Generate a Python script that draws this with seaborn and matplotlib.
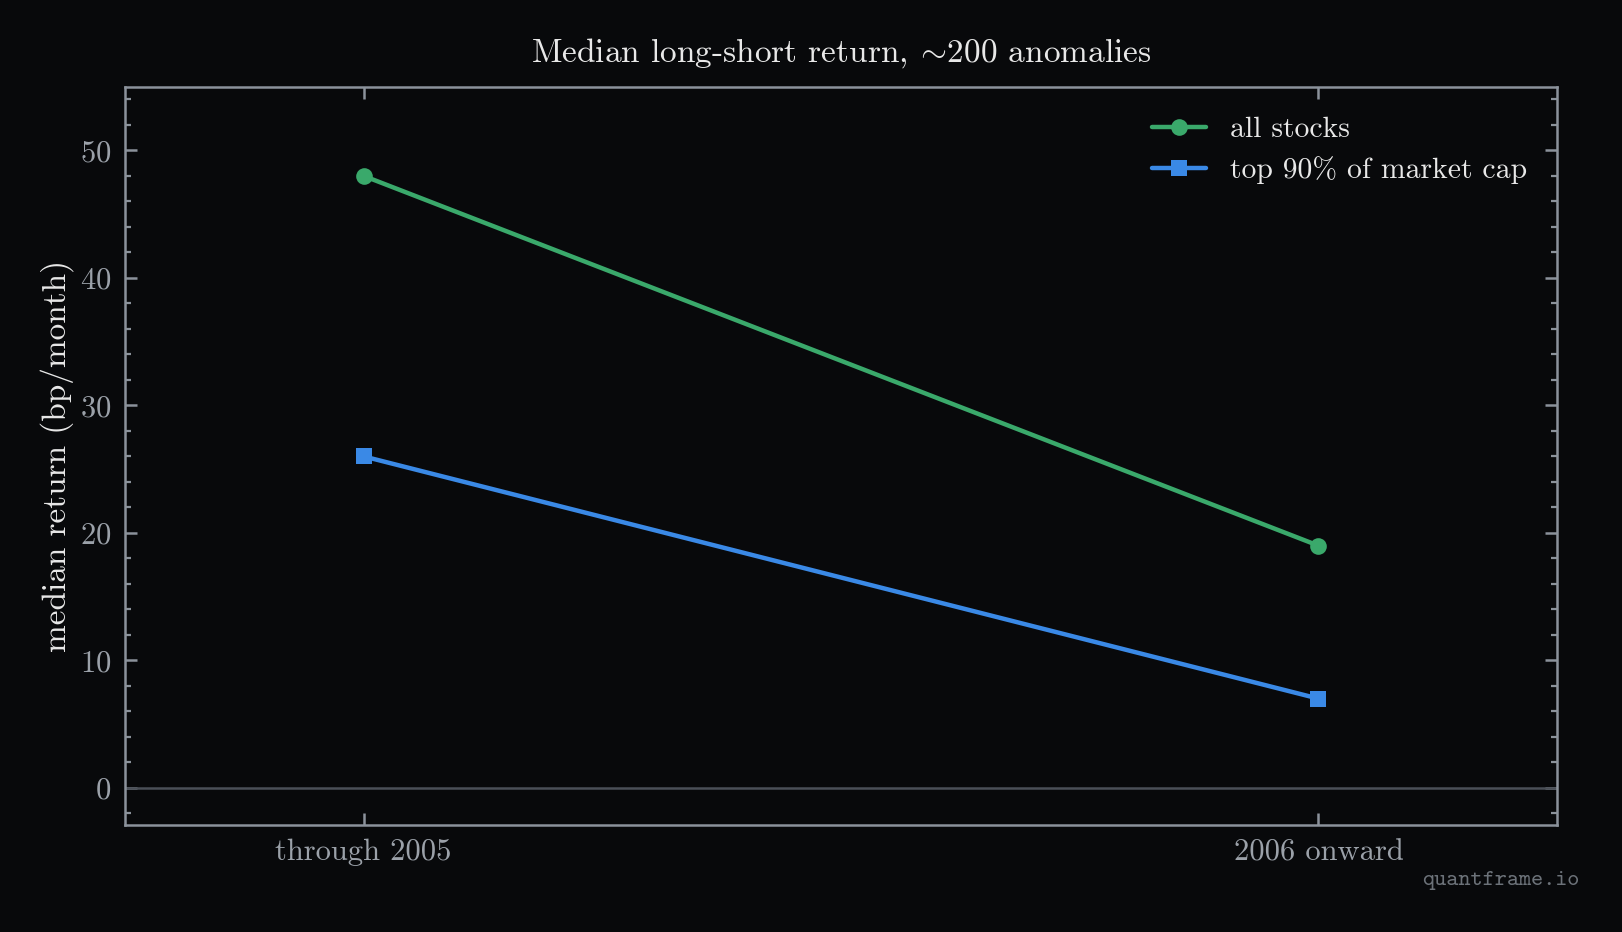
import matplotlib
matplotlib.use("Agg")
import matplotlib.pyplot as plt
import seaborn as sns
import pandas as pd
from matplotlib.ticker import MultipleLocator

periods = ["through 2005", "2006 onward"]
series_names = ["all stocks", "top 90% of market cap"]
all_stocks = [48, 19]
top90 = [26, 7]
yticks = [0, 10, 20, 30, 40, 50]

BG = "#08090b"
GREEN = "#3aa96b"
BLUE = "#3a89e6"
SPINE = "#8b929b"
TICKTXT = "#9ba1a9"
TXT = "#e8e8e8"

sns.set_theme(style="dark")
plt.rcParams.update({
    "font.family": "serif",
    "font.serif": ["cmr10"],
    "mathtext.fontset": "cm",
    "axes.formatter.use_mathtext": True,
    "axes.unicode_minus": False,
})

df = pd.DataFrame({
    "pos": list(range(len(periods))) * 2,
    "value": all_stocks + top90,
    "series": [series_names[0]] * len(periods) + [series_names[1]] * len(periods),
})

fig = plt.figure(figsize=(8.11, 4.66), dpi=200, facecolor=BG)
ax = fig.add_axes([0.077, 0.115, 0.883, 0.792])
ax.set_facecolor(BG)

ax.axhline(0, color="#4a4f57", lw=0.9, zorder=1)

sns.lineplot(
    data=df, x="pos", y="value", hue="series", style="series",
    hue_order=series_names, style_order=series_names,
    palette={series_names[0]: GREEN, series_names[1]: BLUE},
    markers={series_names[0]: "o", series_names[1]: "s"},
    dashes=False, lw=1.6, markersize=6, markeredgewidth=0,
    ax=ax, zorder=3,
)

ax.set_xlim(-0.25, 1.25)
ax.set_ylim(-2.9, 55)
ax.set_xticks(range(len(periods)))
ax.set_xticklabels(periods)
ax.set_yticks(yticks)
ax.yaxis.set_minor_locator(MultipleLocator(2))
ax.set_xlabel("")
ax.set_ylabel("median return (bp/month)", color=TXT, fontsize=12, labelpad=2)
ax.set_title(r"Median long-short return, $\!\sim\!$200 anomalies", color=TXT,
             fontsize=12, pad=9)

for s in ax.spines.values():
    s.set_visible(True)
    s.set_color(SPINE)
    s.set_linewidth(0.9)

ax.tick_params(axis="both", which="major", direction="in", length=4.2, width=0.9,
               color=SPINE, labelcolor=TICKTXT, labelsize=11,
               top=True, right=True, bottom=True, left=True)
ax.tick_params(axis="y", which="minor", direction="in", length=2.2, width=0.8,
               color=SPINE, left=True, right=True)
ax.tick_params(axis="x", which="minor", bottom=False, top=False)
ax.tick_params(axis="x", which="major", pad=5)
ax.tick_params(axis="y", which="major", pad=5)
ax.grid(False)

leg = ax.legend(loc="upper right", frameon=False, fontsize=10.7, handlelength=1.85,
                borderaxespad=0.6, labelspacing=0.45)
for t in leg.get_texts():
    t.set_color(TXT)

fig.text(0.974, 0.055, "quantframe.io", family="cmtt10", fontsize=8.3,
         color="#6c7279", ha="right", va="center")

fig.savefig("out.png", dpi=200, facecolor=BG)
